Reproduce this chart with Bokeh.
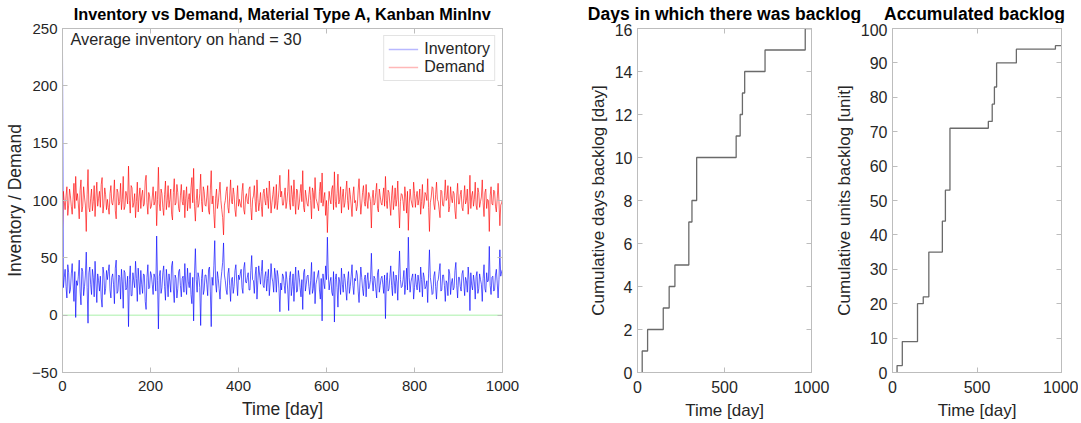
from bokeh.plotting import figure
from bokeh.models import Range1d, LinearAxis, Span, Label, Legend, LegendItem, FixedTicker
from bokeh.layouts import row, column
from bokeh.embed import file_html
from bokeh.resources import INLINE

# ---------------- data ----------------
day_samples = list(range(0, 1001, 2))

inventory = [230,
    24, 33, 40, 25, 15, 44, 37, 19, 22, 36, 45, 28, 12, 38, -2, 30, 26, 34, 48, 21, 9, 41, 38, 17, 25, 35, 55, 24, -7, 37, 42, 27, 18, 40, 33, 16, 47, 28, 11, 36, 30, 21, 34, 15, 7, 42, 36, 18, 23, 39,
    31, 38, 44, 22, 15, 33, 36, 27, 10, 41, 48, 19, 21, 35, 33, 14, 40, 29, 6, 39, 37, 22, 24, 34, -10, 31, 43, 17, 17, 37, 30, 24, 47, 32, 12, 41, 29, 18, 39, 27, 19, 36, 35, 12, 5, 33, 44, 23, 24, 38,
    35, 27, 18, 36, 33, 21, 69, 30, -12, 34, 39, 19, 24, 37, 43, 25, 13, 40, 30, 16, 36, 29, 20, 43, 47, 22, 11, 35, 32, 15, 23, 38, 40, 26, 16, 32, 34, 20, 45, 28, 18, 41, 29, 24, 37, 18, 10, 33, -5, 36,
    58, 31, 20, 37, 33, 24, -9, 32, 40, 18, 22, 35, 35, 27, 17, 40, 42, 21, -10, 33, 26, 43, 65, 28, 20, 38, 32, 23, 14, 30, 38, 46, 63, 35, 30, 22, 18, 36, 41, 26, 12, 31, 33, 19, 25, 39, 44, 29, 17, 35,
    31, 36, 40, 24, 19, 41, 46, 29, 28, 33, 37, 22, 22, 39, 52, 31, 30, 19, 35, 42, 14, 30, 43, 35, 27, 38, 48, 26, 24, 34, 38, 21, 32, 40, 17, 28, 45, 33, 29, 20, 41, 35, 20, 39, 34, 23, 3, 28, 22, 36,
    34, 26, 19, 38, 31, 22, 4, 33, 38, 17, 25, 36, 12, 29, 42, 20, 21, 39, 33, 24, 16, 31, 5, 37, 40, 21, 27, 34, 35, 25, 18, 30, 46, 19, 23, 38, 10, 27, 31, 35, 39, 22, 14, 32, -5, 36, 28, 23, 43, 31,
    68, 36, 22, 29, 33, 20, 17, 38, -6, 31, 36, 24, 7, 33, 29, 18, 41, 27, 20, 36, 32, 22, 13, 30, 38, 19, 25, 34, 44, 26, 18, 32, 30, 39, 35, 21, 11, 28, 42, 33, 23, 17, 31, 35, 16, 30, 37, 23, 26, 31,
    54, 30, 21, 34, 32, 23, 15, 37, 40, 20, 26, 32, 34, 27, 19, 35, -3, 30, 37, 21, 23, 33, 43, 26, 17, 38, 30, 19, 35, 29, 13, 36, 56, 31, 24, 25, 31, 39, 18, 27, 41, 22, 68, 33, 20, 29, 33, 36, 14, 24,
    36, 27, 22, 35, 29, 20, 42, 31, 16, 37, 33, 23, 25, 30, 11, 36, 57, 33, 27, 18, 19, 34, 38, 25, 14, 29, 31, 38, 45, 21, 22, 35, 35, 26, 12, 30, 28, 17, 40, 36, 18, 28, 32, 22, 24, 39, 46, 26, 15, 33,
    33, 25, 21, 36, 39, 28, 17, 33, 30, 20, 42, 31, 4, 37, 26, 22, 35, 29, 14, 34, 38, 19, 23, 36, 31, 27, 12, 32, 44, 23, 20, 37, 29, 30, 60, 26, 18, 33, 34, 21, 22, 35, 40, 28, 15, 31, 57, 34, 38, 40]

demand = [76,
    108, 99, 92, 104, 112, 87, 96, 110, 104, 95, 88, 101, 115, 93, 121, 100, 106, 97, 84, 109, 118, 90, 95, 112, 103, 96, 73, 105, 127, 94, 90, 102, 110, 91, 99, 113, 86, 103, 116, 95, 102, 108, 94, 114, 120, 89, 97, 111, 105, 92,
    101, 94, 88, 106, 113, 98, 96, 103, 118, 91, 84, 110, 107, 96, 99, 115, 92, 101, 121, 92, 95, 108, 104, 97, 130, 100, 89, 113, 111, 94, 98, 106, 85, 99, 116, 90, 103, 111, 93, 104, 109, 95, 97, 117, 122, 98, 88, 107, 104, 93,
    95, 103, 112, 96, 99, 108, 78, 101, 129, 97, 91, 110, 106, 94, 87, 105, 117, 92, 100, 113, 94, 101, 110, 88, 83, 107, 119, 96, 98, 114, 107, 93, 90, 104, 114, 99, 96, 109, 85, 102, 112, 91, 101, 106, 93, 111, 120, 98, 128, 95,
    82, 100, 110, 94, 97, 106, 123, 99, 90, 112, 108, 96, 95, 103, 113, 91, 88, 109, 126, 97, 104, 88, 76, 102, 110, 93, 98, 107, 116, 100, 92, 85, 70, 96, 100, 108, 112, 94, 89, 104, 118, 99, 97, 111, 105, 92, 86, 101, 113, 95,
    101, 97, 94, 108, 115, 92, 88, 103, 106, 99, 97, 110, 112, 94, 83, 101, 104, 113, 99, 90, 118, 102, 91, 98, 107, 95, 86, 106, 110, 100, 96, 111, 102, 93, 117, 104, 89, 98, 105, 112, 93, 97, 114, 92, 100, 109, 122, 103, 108, 96,
    96, 104, 111, 93, 99, 108, 127, 98, 92, 113, 105, 95, 118, 101, 88, 110, 109, 92, 97, 106, 114, 99, 126, 94, 90, 109, 103, 97, 95, 105, 112, 100, 84, 111, 107, 93, 120, 102, 99, 96, 91, 108, 116, 98, 124, 95, 102, 107, 87, 100,
    72, 95, 108, 101, 97, 110, 113, 92, 125, 99, 94, 106, 123, 97, 101, 112, 89, 103, 110, 94, 98, 108, 117, 100, 92, 111, 105, 96, 86, 104, 112, 98, 100, 91, 95, 109, 119, 102, 88, 97, 107, 113, 99, 95, 114, 100, 93, 107, 104, 99,
    76, 102, 109, 96, 98, 107, 115, 93, 90, 110, 104, 98, 96, 103, 111, 95, 121, 100, 93, 109, 107, 97, 87, 104, 113, 92, 100, 111, 95, 101, 117, 94, 76, 99, 106, 105, 99, 91, 112, 103, 89, 108, 74, 97, 110, 101, 97, 94, 116, 106,
    94, 103, 108, 96, 101, 110, 88, 99, 114, 93, 97, 107, 105, 100, 119, 94, 73, 98, 103, 112, 111, 97, 92, 105, 116, 101, 99, 92, 85, 109, 108, 96, 95, 104, 118, 100, 102, 113, 90, 95, 112, 102, 98, 108, 106, 91, 84, 104, 115, 97,
    97, 105, 109, 94, 91, 102, 113, 97, 100, 110, 88, 99, 122, 93, 104, 108, 95, 101, 116, 96, 92, 111, 107, 94, 99, 103, 118, 98, 86, 107, 110, 93, 101, 100, 73, 104, 112, 97, 96, 109, 108, 95, 90, 102, 115, 99, 78, 96, 98, 101]

avg_inventory = 30

backlog_start = 27
backlog_event_days = [27, 58, 148, 182, 215, 295, 313, 340, 567, 590, 603, 616, 733, 964]
cum_days_backlog = [1, 2, 3, 4, 5, 7, 8, 10, 11, 12, 13, 14, 15, 16]
cum_units_backlog = [2, 9, 20, 22, 35, 44, 53, 71, 73, 78, 83, 90, 94, 95]
time_end = 1000

titles = ["Inventory vs Demand, Material Type A, Kanban MinInv",
          "Days in which there was backlog",
          "Accumulated backlog"]

n = min(len(day_samples), len(inventory), len(demand))
day_samples, inventory, demand = day_samples[:n], inventory[:n], demand[:n]

# ---------------- style ----------------
FONT = "Liberation Sans"
AXC = "#bdbdbd"
TXT = "#262626"
STRIP_H = 23
ROW_H = 399


def base_fig(width, x_rng, y_rng, xticks, yticks, ml, mr, tick_fs, lab_fs, xlabel, ylabel):
    p = figure(width=width, height=ROW_H, x_range=Range1d(*x_rng), y_range=Range1d(*y_rng),
               toolbar_location=None, output_backend="svg",
               min_border_left=ml, min_border_right=mr, min_border_top=5, min_border_bottom=49)
    p.xgrid.visible = False
    p.ygrid.visible = False
    p.outline_line_color = AXC
    p.background_fill_color = "white"
    p.border_fill_color = "white"
    for ax, ticks in ((p.xaxis[0], xticks), (p.yaxis[0], yticks)):
        ax.ticker = FixedTicker(ticks=ticks)
        ax.axis_line_color = AXC
        ax.major_tick_line_color = AXC
        ax.major_tick_in = 5
        ax.major_tick_out = 0
        ax.minor_tick_line_color = None
        ax.major_label_text_font = FONT
        ax.major_label_text_font_size = tick_fs
        ax.major_label_text_color = TXT
        ax.axis_label_text_font = FONT
        ax.axis_label_text_font_size = lab_fs
        ax.axis_label_text_color = TXT
        ax.axis_label_text_font_style = "normal"
    p.xaxis[0].axis_label = xlabel
    p.yaxis[0].axis_label = ylabel
    p.xaxis[0].major_label_standoff = 8
    p.yaxis[0].major_label_standoff = 5
    p.xaxis[0].axis_label_standoff = 5
    p.yaxis[0].axis_label_standoff = 4
    # box ticks on top and right (no labels)
    for loc, ticks in (("above", xticks), ("right", yticks)):
        ax = LinearAxis(ticker=FixedTicker(ticks=ticks), axis_line_color=AXC,
                        major_tick_line_color=AXC, major_tick_in=5, major_tick_out=0,
                        minor_tick_line_color=None, major_label_text_color=None,
                        major_label_standoff=0)
        p.add_layout(ax, loc)
    return p


# ---------- panel 1 ----------
p1 = base_fig(560, (0, 1000), (-50, 250), [0, 200, 400, 600, 800, 1000],
              [-50, 0, 50, 100, 150, 200, 250], 62, 58, "15px", "17.5px",
              "Time [day]", "Inventory / Demand")
p1.add_layout(Span(location=0, dimension="width", line_color="#c6f5c6", line_width=1.5, level="underlay"))
p1.line(day_samples, inventory, line_color="#0000ff", line_alpha=0.8, line_width=0.8)
p1.line(day_samples, demand, line_color="#ff0000", line_alpha=0.8, line_width=0.8)
li = p1.line([0], [-100], line_color="#b8b8ff", line_width=1.5)
ld = p1.line([0], [-100], line_color="#ffb8b8", line_width=1.5)
legend = Legend(items=[LegendItem(label="Inventory", renderers=[li]),
                       LegendItem(label="Demand", renderers=[ld])],
                location="top_right", margin=7, padding=4, spacing=0,
                label_height=18, glyph_height=18, glyph_width=30, label_standoff=6,
                label_text_font=FONT, label_text_font_size="16px", label_text_color=TXT,
                border_line_color="#c8c8c8", background_fill_alpha=1.0)
p1.add_layout(legend)
p1.add_layout(Label(x=0, y=250, x_offset=8, y_offset=-1, text=f"Average inventory on hand = {avg_inventory}",
                    text_font=FONT, text_font_size="16.3px", text_color=TXT, text_baseline="top"))

# ---------- panel 2 ----------
step_x = [backlog_start] + backlog_event_days + [time_end]
p2 = base_fig(271, (0, 1000), (0, 16), [0, 500, 1000], list(range(0, 17, 2)), 77, 20,
              "16px", "17px", "Time [day]", "Cumulative days backlog [day]")
p2.step(step_x, [0] + cum_days_backlog + [cum_days_backlog[-1]], mode="after",
        line_color="#6a6a6a", line_width=1.3)

# ---------- panel 3 ----------
p3 = base_fig(247, (0, 1000), (0, 100), [0, 500, 1000], list(range(0, 101, 10)), 56, 17,
              "16px", "17px", "Time [day]", "Cumulative units backlog [unit]")
p3.step(step_x, [0] + cum_units_backlog + [cum_units_backlog[-1]], mode="after",
        line_color="#6a6a6a", line_width=1.3)

# ---------- title strip ----------
strip = figure(width=1078, height=STRIP_H, x_range=Range1d(0, 1078), y_range=Range1d(0, STRIP_H),
               toolbar_location=None, output_backend="svg", min_border=0,
               x_axis_location=None, y_axis_location=None)
strip.xgrid.visible = False
strip.ygrid.visible = False
strip.outline_line_color = None
for cx, t, fs, ty in ((282, titles[0], "16.3px", 18.5), (724, titles[1], "17.5px", 19.5),
                      (974, titles[2], "17.5px", 19.5)):
    strip.add_layout(Label(x=cx, y=ty, text=t, text_align="center", text_baseline="top",
                           text_font=FONT, text_font_size=fs, text_font_style="bold", text_color="#000000"))

layout = column(strip, row(p1, p2, p3))
open("out.html", "w").write(file_html(layout, INLINE))
